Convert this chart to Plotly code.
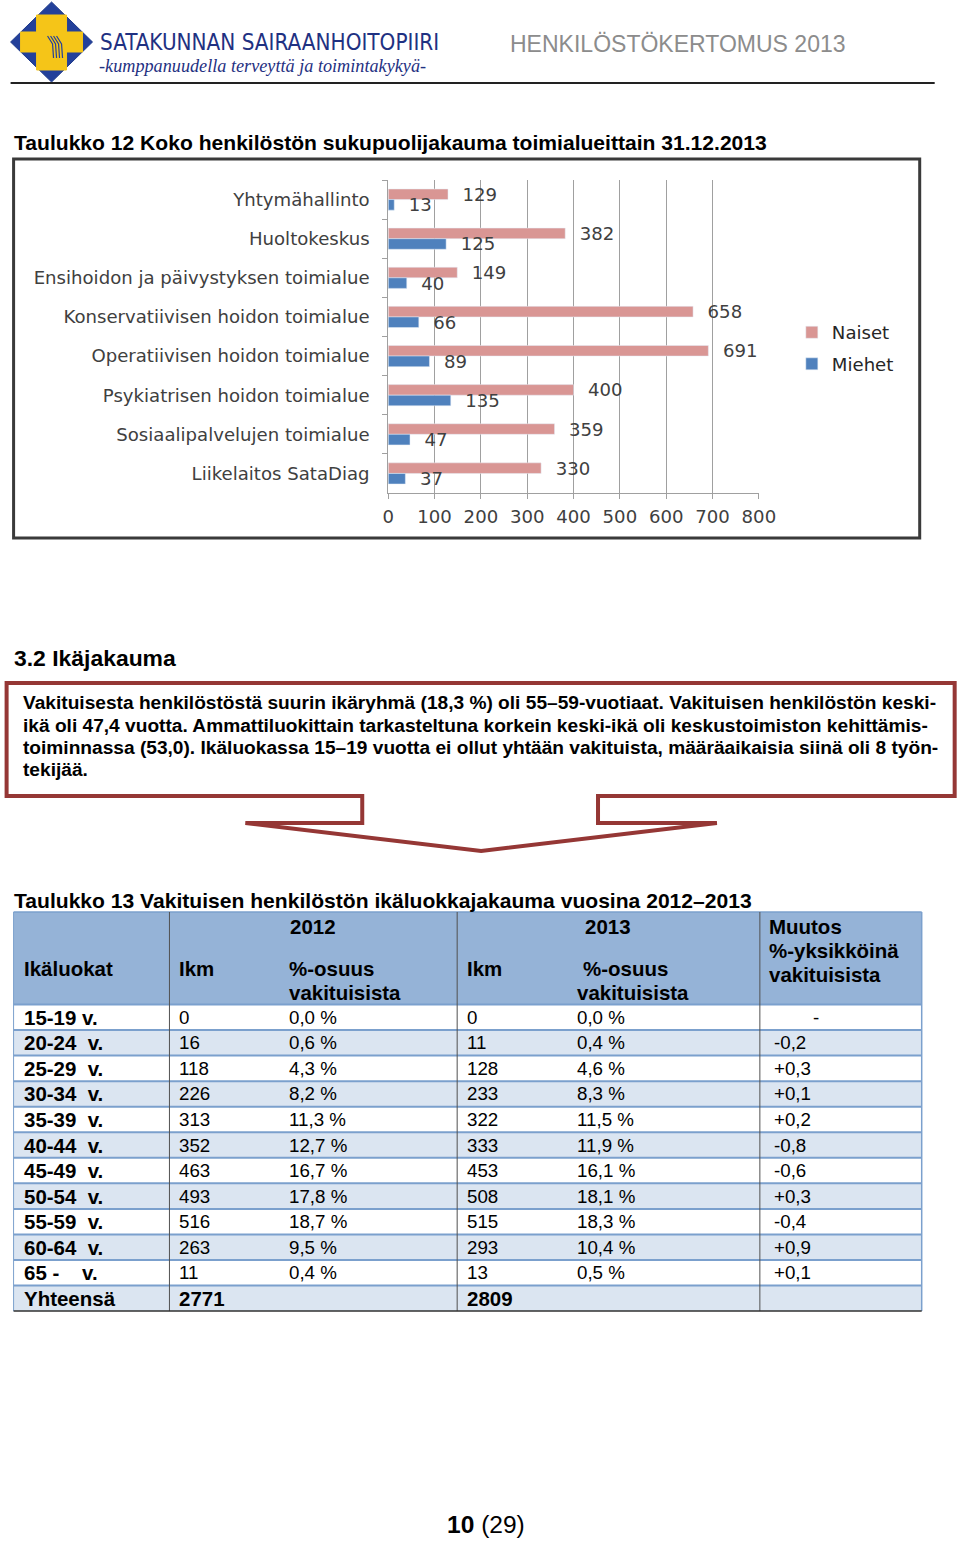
import plotly.graph_objects as go

W, H = 960, 1542

# ---------------- data ----------------
categories = ["Yhtymähallinto", "Huoltokeskus", "Ensihoidon ja päivystyksen toimialue",
              "Konservatiivisen hoidon toimialue", "Operatiivisen hoidon toimialue",
              "Psykiatrisen hoidon toimialue", "Sosiaalipalvelujen toimialue", "Liikelaitos SataDiag"]
naiset = [129, 382, 149, 658, 691, 400, 359, 330]
miehet = [13, 125, 40, 66, 89, 135, 47, 37]
x_ticks = [0, 100, 200, 300, 400, 500, 600, 700, 800]

age_classes = ["15-19 v.", "20-24\u00a0\u00a0v.", "25-29\u00a0\u00a0v.", "30-34\u00a0\u00a0v.",
               "35-39\u00a0\u00a0v.", "40-44\u00a0\u00a0v.", "45-49\u00a0\u00a0v.", "50-54\u00a0\u00a0v.",
               "55-59\u00a0\u00a0v.", "60-64\u00a0\u00a0v.", "65 -\u00a0\u00a0\u00a0\u00a0v."]
lkm_2012 = [0, 16, 118, 226, 313, 352, 463, 493, 516, 263, 11]
pct_2012 = [0.0, 0.6, 4.3, 8.2, 11.3, 12.7, 16.7, 17.8, 18.7, 9.5, 0.4]
lkm_2013 = [0, 11, 128, 233, 322, 333, 453, 508, 515, 293, 13]
pct_2013 = [0.0, 0.4, 4.6, 8.3, 11.5, 11.9, 16.1, 18.1, 18.3, 10.4, 0.5]
muutos = ["-", "-0,2", "+0,3", "+0,1", "+0,2", "-0,8", "-0,6", "+0,3", "-0,4", "+0,9", "+0,1"]
total_2012 = 2771
total_2013 = 2809

body_lines = [
    "Vakituisesta henkilöstöstä suurin ikäryhmä (18,3 %) oli 55–59-vuotiaat. Vakituisen henkilöstön keski-",
    "ikä oli 47,4 vuotta. Ammattiluokittain tarkasteltuna korkein keski-ikä oli keskustoimiston kehittämis-",
    "toiminnassa (53,0). Ikäluokassa 15–19 vuotta ei ollut yhtään vakituista, määräaikaisia siinä oli 8 työn-",
    "tekijää.",
]

ARIAL = "Liberation Sans, Arial, sans-serif"
CHARTF = "DejaVu Sans, Verdana, sans-serif"
PINK = "#D99694"
BLUE = "#4F81BD"
RED = "#953735"

# horizontal calibration of the photographed page
XS, XO = 0.977, 5.4


def fs(s):
    return s / XS


CF = fs(17.7)


def px(x):
    return ((x - XO) / XS) / W


def py(y):
    return 1 - y / H


fig = go.Figure()

fig.add_trace(go.Bar(
    y=categories, x=naiset, orientation="h", name="Naiset", marker_color=PINK,
    legendgroup="a", text=naiset, texttemplate="\u00a0\u00a0%{x}", textposition="outside",
    textfont=dict(family=CHARTF, size=CF, color="#404040"), cliponaxis=False,
    constraintext="none"))
fig.add_trace(go.Bar(
    y=categories, x=miehet, orientation="h", name="Miehet", marker_color=BLUE,
    legendgroup="b", text=miehet, texttemplate="\u00a0\u00a0%{x}", textposition="outside",
    textfont=dict(family=CHARTF, size=CF, color="#404040"), cliponaxis=False,
    constraintext="none"))

shapes = []
ann = []


def text(x, y, s, size=18, color="black", bold=False, xanchor="left", family=ARIAL, italic=False):
    if xanchor == "left":
        x -= 2
    ann.append(dict(x=px(x), y=py(y), xref="paper", yref="paper", text=s, showarrow=False,
                    xanchor=xanchor, yanchor="middle", borderpad=0,
                    font=dict(family=family, size=fs(size), color=color,
                              weight="bold" if bold else "normal",
                              style="italic" if italic else "normal")))


def rect(x0, y0, x1, y1, fill=None, line=None, lw=1):
    shapes.append(dict(type="rect", xref="paper", yref="paper", x0=px(x0), x1=px(x1),
                       y0=py(y1), y1=py(y0), fillcolor=fill if fill else "rgba(0,0,0,0)",
                       line=dict(color=line if line else "rgba(0,0,0,0)", width=lw if line else 0),
                       layer="below"))


def line(x0, y0, x1, y1, color, lw=1, layer="above"):
    shapes.append(dict(type="line", xref="paper", yref="paper", x0=px(x0), x1=px(x1),
                       y0=py(y0), y1=py(y1), line=dict(color=color, width=lw), layer=layer))


def path(pts, color, lw=1, fill=None, closed=True):
    d = "M " + " L ".join(f"{px(x):.5f},{py(y):.5f}" for x, y in pts) + (" Z" if closed else "")
    shapes.append(dict(type="path", xref="paper", yref="paper", path=d,
                       fillcolor=fill if fill else "rgba(0,0,0,0)",
                       line=dict(color=color, width=lw), layer="above"))


# ---------------- header / logo ----------------
path([(51, 2), (92, 42), (51, 82), (10, 42)], "#1E3A8A", 1, fill="#23409A")
path([(36, 15), (66, 15), (66, 32), (82, 32), (82, 52), (66, 52), (66, 70), (36, 70),
      (36, 52), (20, 52), (20, 32), (36, 32)], "#F5C518", 1, fill="#F5C518")
for k in range(4):
    path([(47 + k * 3, 36), (52 + k * 3, 44), (53 + k * 3, 58)], "#23409A", 1.2, closed=False)

text(100, 42, "SATAKUNNAN SAIRAANHOITOPIIRI", size=21.8, color="#1F3182",
     family="Liberation Sans Narrow, DejaVu Sans Condensed, sans-serif")
text(99, 66, "-kumppanuudella terveyttä ja toimintakykyä-", size=17.8, color="#1F3182",
     family="Liberation Serif, serif", italic=True)
text(511, 44, "HENKILÖSTÖKERTOMUS 2013", size=22.5, color="#8C8C8C")
line(10, 83, 935, 83, "#222222", 2)

# ---------------- chart ----------------
text(14, 142, "Taulukko 12 Koko henkilöstön sukupuolijakauma toimialueittain 31.12.2013", size=20.6, bold=True)
rect(13, 159, 920, 538, fill="white", line="#3A3A3A", lw=3)

# ---------------- text box + arrow ----------------
text(14, 658, "3.2 Ikäjakauma", size=22.4, bold=True)
path([(362, 823), (362, 796), (6, 796), (6, 683), (955, 683), (955, 796), (598, 796),
      (598, 823), (717, 823), (481, 851), (245, 823)], RED, 4)
for i, s in enumerate(body_lines):
    text(23, 703 + i * 22.3, s, size=18.7, bold=True)

# ---------------- table ----------------
text(14, 900, "Taulukko 13 Vakituisen henkilöstön ikäluokkajakauma vuosina 2012–2013", size=20.6, bold=True)
TL, TR = 13, 922
cols = [TL, 169, 457, 760, TR]
HT, HB = 912, 1004.5
RH = 25.55
HDR = "#95B3D7"
ALT = "#DBE5F1"
rect(TL, HT, TR, HB, fill=HDR)
nrows = len(age_classes) + 1
for i in range(nrows):
    top = HB + i * RH
    rect(TL, top, TR, top + RH, fill=ALT if i % 2 == 1 else "white")
for i in range(1, nrows):
    line(TL, HB + i * RH, TR, HB + i * RH, "#7BA0CD", 2)
line(TL, HB, TR, HB, "#7BA0CD", 2)
line(TL, HT, TR, HT, "#7BA0CD", 1.5)
bottom = HB + nrows * RH
for c in cols[1:-1]:
    line(c, HT, c, bottom, "#505050", 1)
line(TL, HT, TL, bottom, "#7BA0CD", 1)
line(TR, HT, TR, bottom, "#7BA0CD", 1.5)
line(TL, bottom, TR, bottom, "#303030", 1.5)

FB = 20
FS = 18.3
text(313, 926, "2012", size=FB, bold=True, xanchor="center")
text(608, 926, "2013", size=FB, bold=True, xanchor="center")
text(770, 926, "Muutos", size=FB, bold=True)
text(770, 950, "%-yksikköinä", size=FB, bold=True)
text(770, 974, "vakituisista", size=FB, bold=True)
text(24, 968, "Ikäluokat", size=FB, bold=True)
text(180, 968, "Ikm", size=FB, bold=True)
text(290, 968, "%-osuus", size=FB, bold=True)
text(290, 992, "vakituisista", size=FB, bold=True)
text(468, 968, "Ikm", size=FB, bold=True)
text(584, 968, "%-osuus", size=FB, bold=True)
text(578, 992, "vakituisista", size=FB, bold=True)


def fmt(v):
    return f"{v:.1f}".replace(".", ",") + " %"


for i, a in enumerate(age_classes):
    yc = HB + i * RH + RH / 2
    text(24, yc, a, size=FB, bold=True)
    text(180, yc, str(lkm_2012[i]), size=FS)
    text(290, yc, fmt(pct_2012[i]), size=FS)
    text(468, yc, str(lkm_2013[i]), size=FS)
    text(578, yc, fmt(pct_2013[i]), size=FS)
    if muutos[i] == "-":
        text(816, yc, muutos[i], size=FS, xanchor="center")
    else:
        text(775, yc, muutos[i], size=FS)
yc = HB + len(age_classes) * RH + RH / 2
text(24, yc, "Yhteensä", size=FB, bold=True)
text(180, yc, str(total_2012), size=FB, bold=True)
text(468, yc, str(total_2013), size=FB, bold=True)

# ---------------- page number ----------------
text(486, 1524, "<b>10</b> (29)", size=24, xanchor="center")

fig.update_layout(
    width=W, height=H, autosize=False, margin=dict(l=0, r=0, t=0, b=0),
    paper_bgcolor="white", plot_bgcolor="rgba(0,0,0,0)",
    barmode="group", bargap=0.46, bargroupgap=0,
    shapes=shapes, annotations=ann,
    showlegend=True,
    legend=dict(x=px(792), y=py(314), xanchor="left", yanchor="top",
                traceorder="grouped", tracegroupgap=5, bgcolor="rgba(0,0,0,0)",
                font=dict(family=CHARTF, size=CF, color="#262626")),
    xaxis=dict(domain=[px(388), px(759)], range=[0, 800], tickvals=x_ticks,
               showgrid=True, gridcolor="#A0A0A0", gridwidth=1, zeroline=False,
               showline=True, linecolor="#A0A0A0", ticks="outside", ticklen=5,
               tickcolor="#A0A0A0", anchor="y", ticklabelstandoff=2,
               tickfont=dict(family=CHARTF, size=CF, color="#404040")),
    yaxis=dict(domain=[py(493), py(180)], autorange="reversed", showgrid=False,
               showline=True, linecolor="#A0A0A0", ticks="outside", ticklen=5,
               tickcolor="#A0A0A0", tickson="boundaries", anchor="x", ticklabelstandoff=14,
               tickfont=dict(family=CHARTF, size=CF, color="#404040")),
)

fig.write_html("out.html", config={"responsive": False, "displayModeBar": False, "staticPlot": True},
               post_script="document.body.style.margin='0';document.body.style.overflow='hidden';")
